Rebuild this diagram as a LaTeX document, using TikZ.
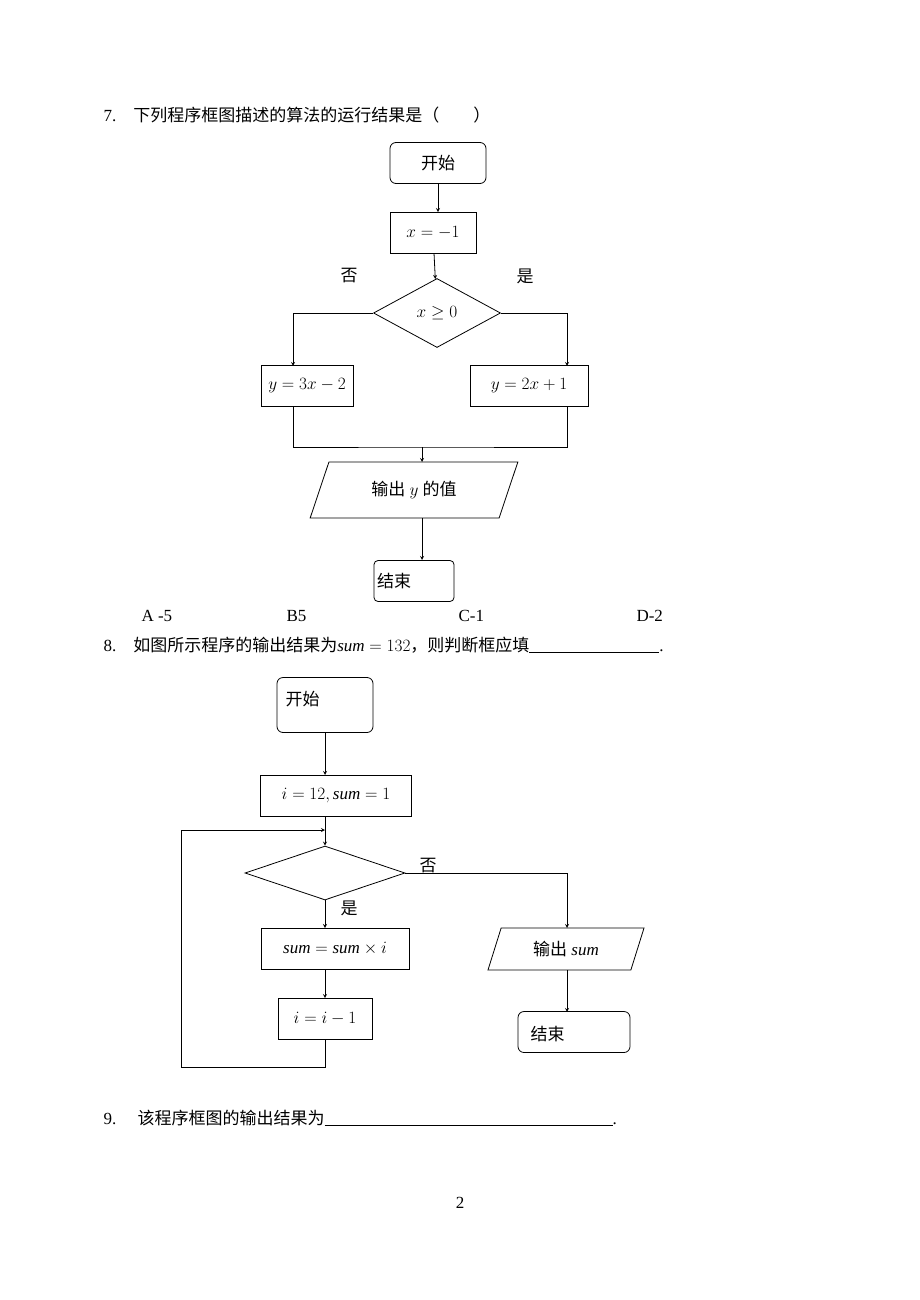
\documentclass[tikz,border=0pt]{standalone}
\usepackage{fontspec}
\setmainfont{Liberation Serif}
\newfontfamily\cjk{Noto Sans CJK SC}
\usetikzlibrary{shapes.geometric, arrows}
\tikzset{>=stealth,
every node/.style={font=\fontsize{17}{20}\selectfont},
box/.style={draw, thick, minimum height=41pt, inner sep=2pt},
term/.style={box, rounded corners=6pt},
cond/.style={draw, thick, diamond, inner sep=0pt},
io/.style={draw, thick, trapezium, trapezium stretches=true, inner sep=0pt},
flow/.style={->, thick},
}
\newcommand{\zh}[1]{{\cjk #1}}

\begin{document}
\begin{tikzpicture}[x=1pt, y=-1pt]
\useasboundingbox (0,0) rectangle (920,1300);
    % question 7
    \node[anchor=west] (q7) at (100,115) {7.\quad \zh{下列程序框图描述的算法的运行结果是（\qquad ）}};
    \node[term, minimum width=96pt] (s1) at (438,163) {\zh{开始}};
    \node[box, minimum width=86pt] (init1) at (433,233) {$x=-1$};
    \node[cond, minimum width=127pt, minimum height=69pt] (c1) at (437,313) {$x\geq 0$};
    \node (no1) at (349,276) {\zh{否}};
    \node (yes1) at (525,276) {\zh{是}};
    \node[box, minimum width=92pt] (left1) at (307,386) {$y=3x-2$};
    \node[box, minimum width=118pt] (right1) at (529,386) {$y=2x+1$};
    \coordinate (m1) at (422,447);
    \node[io, trapezium left angle=62, trapezium right angle=118, minimum width=208pt, minimum height=56pt] (out1) at (414,490) {\zh{输出} $y$ \zh{的值}};
    \node[term, rounded corners=4pt, minimum width=80pt] (e1) at (414,581) {};
    \node[anchor=west] at (e1.west) {\zh{结束}};

    \draw[flow] (s1) -- (s1|-init1.north);
    \draw[flow] (init1) -- (c1);
    \draw[flow] (c1.west) -| (293,366);
    \draw[flow] (c1.east) -| (567,366);
    \draw[thick] (293,407) |- (m1) -| (567,407);
    \draw[flow] (m1) -- (422,462);
    \draw[flow] (422,518) -- (422,560);

    \node[anchor=west] (optA) at (138,616) {A -5};
    \node[anchor=west] (optB) at (283,616) {B5};
    \node[anchor=west] (optC) at (455,616) {C-1};
    \node[anchor=west] (optD) at (633,616) {D-2};

    % question 8
    \node[anchor=west] (q8) at (100,645) {8.\quad \zh{如图所示程序的输出结果为}$\mathit{sum}=132$\zh{，则判断框应填}\underline{\hspace{130pt}}.};
    \node[term, minimum width=96pt, minimum height=55pt] (s2) at (325,705) {};
    \node[anchor=north west] at (282,688) {\zh{开始}};
    \node[box, minimum width=151pt] (init2) at (336,796) {$i=12,\mathit{sum}=1$};
    \node[cond, minimum width=160pt, minimum height=54pt] (c2) at (325,873) {};
    \node (no2) at (428,866) {\zh{否}};
    \node (yes2) at (349,908) {\zh{是}};
    \node[box, minimum width=148pt] (mul) at (335,949) {$\mathit{sum}=\mathit{sum}\times i$};
    \node[box, minimum width=94pt] (dec) at (325,1019) {$i=i-1$};
    \coordinate (j2) at (325,830);
    \node[io, trapezium left angle=67, trapezium right angle=113, minimum width=157pt, minimum height=42pt] (out2) at (566,949) {\zh{输出} $\mathit{sum}$};
    \node[term, minimum width=112pt] (e2) at (574,1032) {};
    \node[anchor=west] at (527,1034) {\zh{结束}};

    \draw[flow] (s2) -- (325,775);
    \draw[flow] (325,817) -- (c2.north);
    \draw[flow] (c2.south) -- (325,928);
    \draw[flow] (325,970) -- (dec);
    \draw[flow] (dec.south) -- (325,1067) -| (181,830) -- (j2);
    \draw[flow] (c2.east) -| (567,928);
    \draw[flow] (567,970) -- (567,1012);

    % question 9
    \node[anchor=west] (q9) at (100,1118) {9.\quad\ \zh{该程序框图的输出结果为}\underline{\hspace{288pt}}.};
    \node (page) at (460,1203) {2};
\end{tikzpicture}
\end{document}
